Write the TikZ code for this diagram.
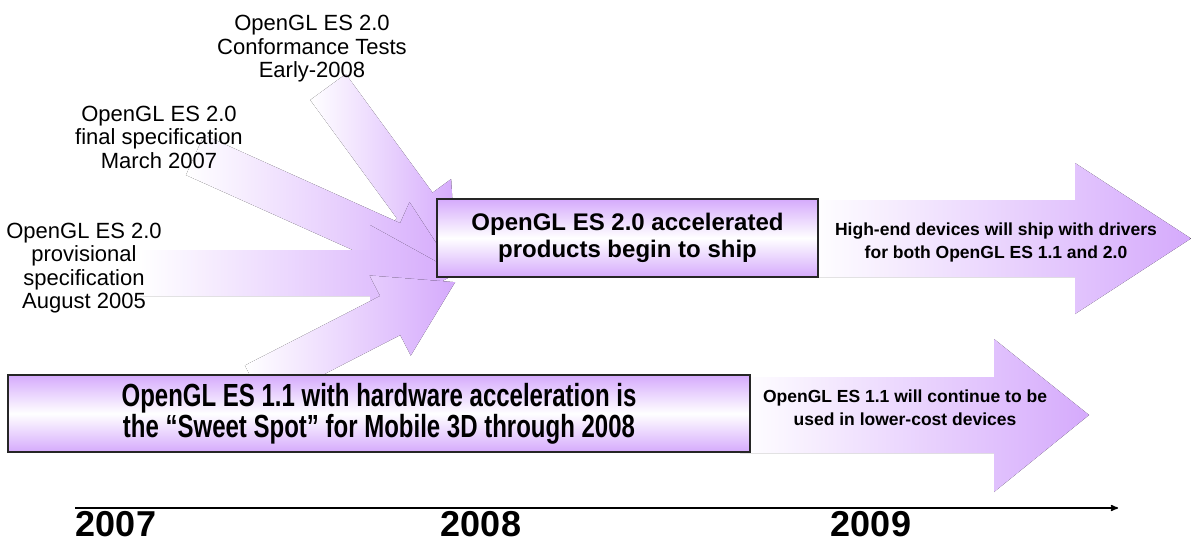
\documentclass[tikz,border=0pt]{standalone}
\usepackage{fontspec}
\setmainfont{Liberation Sans}
\newfontfamily\narrowbf[FakeStretch=0.75]{Liberation Sans Bold}
\usetikzlibrary{%
  arrows,%
  shapes,%
  positioning,%
  calc%
}
\definecolor{lilac}{RGB}{213,170,252}

\begin{document}
\begin{tikzpicture}
  [
  x=1pt, y=-1pt, line width=1.2pt, >=stealth',
  label/.style={align=center, inner sep=0pt, font=\fontsize{22}{23.5}\selectfont},
  bar/.style={draw=black!85, line width=1.3pt, top color=lilac, bottom color=lilac, middle color=white, inner sep=0pt},
  fat/.style={left color=white, right color=lilac, draw=none},
  note/.style={align=center, inner sep=0pt, font=\bfseries\fontsize{17.5}{23}\selectfont},
  year/.style={inner sep=0pt, font=\bfseries\fontsize{36}{36}\selectfont},
  ]
  \useasboundingbox (0,0) rectangle (1191,542);

  % converging arrows
  \coordinate (tailA) at (328,87);
  \coordinate (tailB) at (195,155);
  \coordinate (tailC) at (140,273);
  \coordinate (tailD) at (255,385);
  \begin{scope}[shift={(tailA)}, rotate=-53.8]
    \fill[fat] (0,-22) -- (147,-22) -- (147,-45) -- (217,0) -- (147,45) -- (147,22) -- (0,22) -- cycle;
  \end{scope}
  \begin{scope}[shift={(tailB)}, rotate=-24.2]
    \fill[fat] (0,-22) -- (215,-22) -- (215,-45) -- (285,0) -- (215,45) -- (215,22) -- (0,22) -- cycle;
  \end{scope}
  \begin{scope}[shift={(tailC)}]
    \fill[fat] (0,-23) -- (230,-23) -- (230,-48) -- (317,0) -- (230,48) -- (230,23) -- (0,23) -- cycle;
  \end{scope}
  \begin{scope}[shift={(tailD)}, rotate=27.2]
    \fill[fat] (0,-22) -- (152,-22) -- (152,-45) -- (225,0) -- (152,45) -- (152,22) -- (0,22) -- cycle;
  \end{scope}

  % outgoing arrows
  \fill[fat] (810,200) -- (1075,200) -- (1075,163) -- (1191,238.5) -- (1075,314) -- (1075,277) -- (810,277) -- cycle;
  \fill[fat] (740,377) -- (994,377) -- (994,339) -- (1089,415) -- (994,492) -- (994,453) -- (740,453) -- cycle;

  \node[bar, minimum width=381pt, minimum height=78pt, font=\bfseries\fontsize{24}{27}\selectfont, align=center] (estwo) at (627.5,238)
    {OpenGL ES 2.0 accelerated\\products begin to ship};
  \node[bar, minimum width=742pt, minimum height=77pt, font=\narrowbf\fontsize{32}{31}\selectfont, align=center] (esone) at (379,413.5)
    {OpenGL ES 1.1 with hardware acceleration is\\the “Sweet Spot” for Mobile 3D through 2008};

  \node[label] (conftests) at (312,49) {OpenGL ES 2.0\\Conformance Tests\\Early-2008};
  \node[label] (finalspec) at (159,137) {OpenGL ES 2.0\\final specification\\March 2007};
  \node[label] (provspec) at (84,268) {OpenGL ES 2.0\\provisional\\specification\\August 2005};

  \node[note] (bothdrivers) at (996,242) {High-end devices will ship with drivers\\for both OpenGL ES 1.1 and 2.0};
  \node[note] (lowcost) at (905,408) {OpenGL ES 1.1 will continue to be\\used in lower-cost devices};

  % time line
  \coordinate (tstart) at (75,508);
  \coordinate (tend) at (1118,508);
  \draw[->, line width=1.5pt] (tstart) -- (tend);
  \node[year] (yA) at (116,524) {2007};
  \node[year] (yB) at (481,524) {2008};
  \node[year] (yC) at (871,524) {2009};
\end{tikzpicture}
\end{document}
